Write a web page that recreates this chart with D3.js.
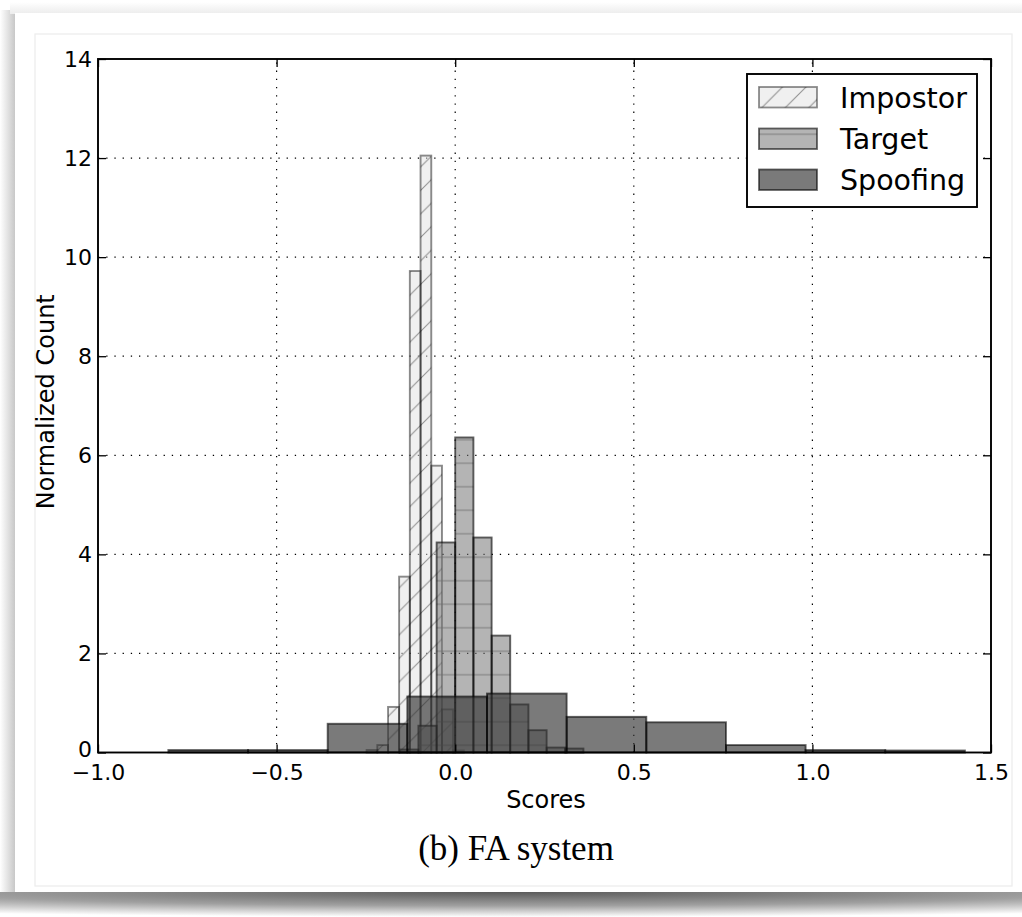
<!DOCTYPE html>
<html>
<head>
<meta charset="utf-8">
<script src="https://cdn.jsdelivr.net/npm/d3@7/dist/d3.min.js"></script>
<style>
  html, body { margin: 0; padding: 0; background: #ffffff; }
  svg { display: block; }
</style>
</head>
<body>
<svg id="chart" width="1022" height="917"></svg>
<script>
// ---- data ----
const seriesNames = ["Impostor", "Target", "Spoofing"];

const impostorEdges = [-0.248, -0.218, -0.188, -0.157, -0.127, -0.097, -0.067, -0.037, -0.006, 0.024];
const impostorCounts = [0.05, 0.15, 0.92, 3.55, 9.72, 12.05, 5.79, 0.87, 0.04];

const targetEdges = [-0.155, -0.103, -0.052, 0.000, 0.051, 0.102, 0.154, 0.205, 0.256, 0.308, 0.359];
const targetCounts = [0.06, 0.54, 4.24, 6.36, 4.34, 2.36, 0.97, 0.45, 0.10, 0.08];

const spoofEdges = [-0.803, -0.580, -0.357, -0.134, 0.089, 0.312, 0.535, 0.758, 0.981, 1.204, 1.427];
const spoofCounts = [0.05, 0.05, 0.58, 1.13, 1.19, 0.72, 0.61, 0.15, 0.05, 0.04];

const xTicks = [-1.0, -0.5, 0.0, 0.5, 1.0, 1.5];
const xTickLabels = ["\u22121.0", "\u22120.5", "0.0", "0.5", "1.0", "1.5"];
const yTicks = [0, 2, 4, 6, 8, 10, 12, 14];
const yTickLabels = ["0", "2", "4", "6", "8", "10", "12", "14"];

const xLabel = "Scores";
const yLabel = "Normalized Count";
const caption = "(b) FA system";

// ---- layout ----
const svg = d3.select("#chart");
const x = d3.scaleLinear().domain([-1, 1.5]).range([98, 991]);
const y = d3.scaleLinear().domain([0, 14]).range([752.5, 59]);

const defs = svg.append("defs");

// card shadow gradients
const rg = defs.append("radialGradient").attr("id", "bshadow").attr("cx", "50%").attr("cy", "0%").attr("r", "100%");
rg.append("stop").attr("offset", "0%").attr("stop-color", "#5a5a5a");
rg.append("stop").attr("offset", "55%").attr("stop-color", "#a0a0a0");
rg.append("stop").attr("offset", "100%").attr("stop-color", "#ffffff");
const lsh = defs.append("linearGradient").attr("id", "lshadow").attr("x1", 0).attr("y1", 0).attr("x2", 1).attr("y2", 0);
lsh.append("stop").attr("offset", "0%").attr("stop-color", "#fff");
lsh.append("stop").attr("offset", "100%").attr("stop-color", "#c4c4c4");
const tsh = defs.append("linearGradient").attr("id", "tshadow").attr("x1", 0).attr("y1", 0).attr("x2", 0).attr("y2", 1);
tsh.append("stop").attr("offset", "0%").attr("stop-color", "#fff");
tsh.append("stop").attr("offset", "100%").attr("stop-color", "#ececec");

// background / card
svg.append("rect").attr("x", 0).attr("y", 0).attr("width", 1022).attr("height", 917).attr("fill", "#ffffff");
svg.append("rect").attr("x", 0).attr("y", 892).attr("width", 1022).attr("height", 25).attr("fill", "url(#bshadow)");
svg.append("rect").attr("x", 0).attr("y", 10).attr("width", 16).attr("height", 882).attr("fill", "url(#lshadow)");
svg.append("rect").attr("x", 10).attr("y", 2).attr("width", 1012).attr("height", 12).attr("fill", "url(#tshadow)");
svg.append("rect").attr("x", 15).attr("y", 13).attr("width", 1007).attr("height", 879).attr("fill", "#ffffff");
svg.append("rect").attr("x", 35).attr("y", 34).attr("width", 977).attr("height", 852)
  .attr("fill", "none").attr("stroke", "#ececec").attr("stroke-width", 1.2);

// hatch patterns
const hs = 23.5;
const p1 = defs.append("pattern").attr("id", "hatchDiag").attr("patternUnits", "userSpaceOnUse")
  .attr("width", hs).attr("height", hs);
p1.append("path").attr("d", `M0,${hs} L${hs},0 M${-hs/2},${hs/2} L${hs/2},${-hs/2} M${hs/2},${hs*1.5} L${hs*1.5},${hs/2}`)
  .attr("stroke", "#7a7a7a").attr("stroke-opacity", 0.8).attr("stroke-width", 1.1).attr("fill", "none");
const p2 = defs.append("pattern").attr("id", "hatchHorz").attr("patternUnits", "userSpaceOnUse")
  .attr("width", hs).attr("height", hs).attr("y", 5);
p2.append("path").attr("d", `M0,${hs/2} L${hs},${hs/2}`)
  .attr("stroke", "#6a6a6a").attr("stroke-opacity", 0.7).attr("stroke-width", 1.1).attr("fill", "none");

const styles = {
  Impostor: { fill: "#e2e2e2", fop: 0.5, hatch: "url(#hatchDiag)", stroke: "#000", sop: 0.45 },
  Target:   { fill: "#777777", fop: 0.55, hatch: "url(#hatchHorz)", stroke: "#000", sop: 0.6 },
  Spoofing: { fill: "#333333", fop: 0.65, hatch: null, stroke: "#000", sop: 0.6 }
};

// grid
const grid = svg.append("g");
xTicks.filter(v => v > -1 && v < 1.5).forEach(v => {
  grid.append("line").attr("x1", x(v)).attr("x2", x(v)).attr("y1", y(0)).attr("y2", y(14))
    .attr("stroke", "#000").attr("stroke-width", 1.2).attr("stroke-dasharray", "1.3,6.9");
});
yTicks.filter(v => v > 0 && v < 14).forEach(v => {
  grid.append("line").attr("x1", x(-1)).attr("x2", x(1.5)).attr("y1", y(v)).attr("y2", y(v))
    .attr("stroke", "#000").attr("stroke-width", 1.2).attr("stroke-dasharray", "1.3,6.9");
});

// bars
function drawHist(name, edges, counts) {
  const st = styles[name];
  const g = svg.append("g").attr("class", "hist-" + name);
  const data = counts.map((c, i) => ({ x0: edges[i], x1: edges[i + 1], v: c }));
  g.selectAll("rect.fill").data(data).join("rect").attr("class", "fill")
    .attr("x", d => x(d.x0)).attr("width", d => x(d.x1) - x(d.x0))
    .attr("y", d => y(d.v)).attr("height", d => y(0) - y(d.v))
    .attr("fill", st.fill).attr("fill-opacity", st.fop);
  if (st.hatch) {
    g.selectAll("rect.hatch").data(data).join("rect").attr("class", "hatch")
      .attr("x", d => x(d.x0)).attr("width", d => x(d.x1) - x(d.x0))
      .attr("y", d => y(d.v)).attr("height", d => y(0) - y(d.v))
      .attr("fill", st.hatch);
  }
  g.selectAll("rect.edge").data(data).join("rect").attr("class", "edge")
    .attr("x", d => x(d.x0)).attr("width", d => x(d.x1) - x(d.x0))
    .attr("y", d => y(d.v)).attr("height", d => y(0) - y(d.v))
    .attr("fill", "none").attr("stroke", st.stroke).attr("stroke-opacity", st.sop).attr("stroke-width", 1.9);
}
drawHist("Impostor", impostorEdges, impostorCounts);
drawHist("Target", targetEdges, targetCounts);
drawHist("Spoofing", spoofEdges, spoofCounts);

// frame
svg.append("rect").attr("x", x(-1)).attr("y", y(14)).attr("width", x(1.5) - x(-1)).attr("height", y(0) - y(14))
  .attr("fill", "none").attr("stroke", "#000").attr("stroke-width", 1.9);

// axes with inward ticks
const font = "'DejaVu Sans', sans-serif";
const xAxisB = d3.axisBottom(x).tickValues(xTicks).tickSizeInner(-8).tickSizeOuter(0)
  .tickPadding(12).tickFormat((d, i) => xTickLabels[i]);
const gxb = svg.append("g").attr("transform", `translate(0,${y(0)})`).call(xAxisB);
const xAxisT = d3.axisTop(x).tickValues(xTicks).tickSizeInner(-8).tickSizeOuter(0).tickFormat("");
const gxt = svg.append("g").attr("transform", `translate(0,${y(14)})`).call(xAxisT);
const yAxisL = d3.axisLeft(y).tickValues(yTicks).tickSizeInner(-8).tickSizeOuter(0)
  .tickPadding(6).tickFormat((d, i) => yTickLabels[i]);
const gyl = svg.append("g").attr("transform", `translate(${x(-1)},0)`).call(yAxisL);
const yAxisR = d3.axisRight(y).tickValues(yTicks).tickSizeInner(-8).tickSizeOuter(0).tickFormat("");
const gyr = svg.append("g").attr("transform", `translate(${x(1.5)},0)`).call(yAxisR);
[gxb, gxt, gyl, gyr].forEach(g => {
  g.select(".domain").remove();
  g.selectAll(".tick line").attr("stroke", "#000").attr("stroke-width", 1.3);
  g.selectAll(".tick text").attr("font-family", font).attr("font-size", 22).attr("fill", "#000");
});
// lift the "0" label slightly as in the reference so it clears the x labels
gyl.selectAll(".tick text").filter(d => d === 0).attr("dy", "0.2em");

// axis labels
svg.append("text").attr("x", 546).attr("y", 808).attr("text-anchor", "middle")
  .attr("font-family", font).attr("font-size", 24).text(xLabel);
svg.append("text").attr("transform", `translate(54,${y(7) - 4}) rotate(-90)`).attr("text-anchor", "middle")
  .attr("font-family", font).attr("font-size", 24).text(yLabel);

// caption
svg.append("text").attr("x", 516).attr("y", 860).attr("text-anchor", "middle")
  .attr("font-family", "'Liberation Serif', 'Times New Roman', serif").attr("font-size", 35).text(caption);

// legend
const lgd = svg.append("g");
lgd.append("rect").attr("x", 747).attr("y", 74).attr("width", 230).attr("height", 133)
  .attr("fill", "#fff").attr("stroke", "#000").attr("stroke-width", 1.9);
const legendRows = [87, 128.5, 169.5];
seriesNames.forEach((name, i) => {
  const st = styles[name];
  const yy = legendRows[i];
  lgd.append("rect").attr("x", 759).attr("y", yy).attr("width", 58).attr("height", 20.5)
    .attr("fill", st.fill).attr("fill-opacity", st.fop);
  if (st.hatch) {
    lgd.append("rect").attr("x", 759).attr("y", yy).attr("width", 58).attr("height", 20.5).attr("fill", st.hatch);
  }
  lgd.append("rect").attr("x", 759).attr("y", yy).attr("width", 58).attr("height", 20.5)
    .attr("fill", "none").attr("stroke", "#000").attr("stroke-opacity", st.sop).attr("stroke-width", 1.8);
  lgd.append("text").attr("x", 840).attr("y", yy + 20.5).attr("font-family", font).attr("font-size", 28.5)
    .attr("fill", "#000").text(name);
});
</script>
</body>
</html>
